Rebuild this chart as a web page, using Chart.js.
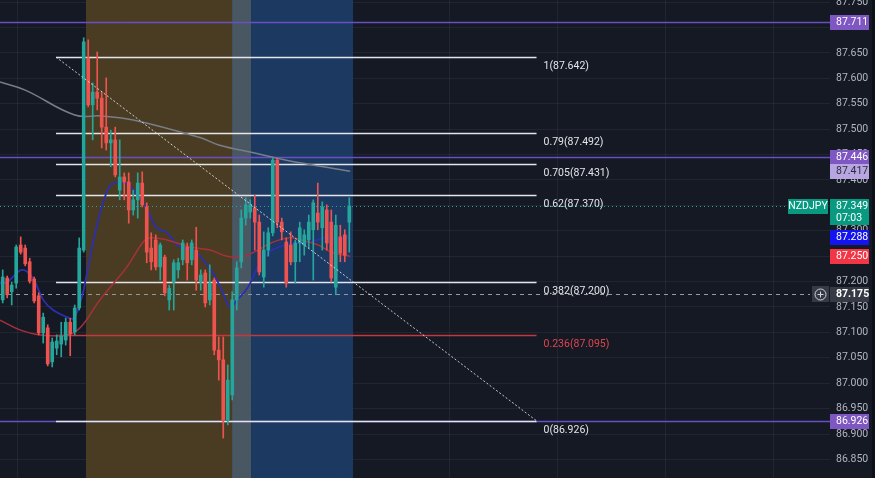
<!DOCTYPE html>
<html>
<head>
<meta charset="utf-8">
<script src="https://cdn.jsdelivr.net/npm/chart.js@4.4.0/dist/chart.umd.min.js"></script>
<style>
  html, body { margin: 0; padding: 0; background: #151924; }
  #wrap { width: 875px; height: 478px; position: relative; }
</style>
</head>
<body>
<div id="wrap"><canvas id="chart"></canvas></div>
<script>
/* ---------- data (NZDJPY candles, index = bar number) ---------- */
const opens = [87.164, 87.207, 87.180, 87.197, 87.272, 87.266, 87.239, 87.205, 87.172, 87.099,
  87.109, 87.042, 87.069, 87.077, 87.085, 87.120, 87.101, 87.148, 87.262, 87.640,
  87.548, 87.573, 87.561, 87.504, 87.473, 87.479, 87.380, 87.406, 87.396, 87.341,
  87.361, 87.394, 87.347, 87.266, 87.282, 87.229, 87.248, 87.164, 87.199, 87.223,
  87.243, 87.268, 87.243, 87.262, 87.199, 87.217, 87.164, 87.203, 87.065, 87.046,
  86.928, 86.977, 87.164, 87.239, 87.325, 87.337, 87.345, 87.317, 87.209, 87.262,
  87.296, 87.439, 87.317, 87.278, 87.272, 87.239, 87.276, 87.272, 87.282, 87.302,
  87.335, 87.306, 87.341, 87.317, 87.189, 87.288, 87.292, 87.317];
const highs = [87.223, 87.211, 87.199, 87.272, 87.288, 87.272, 87.246, 87.209, 87.178, 87.138,
  87.115, 87.089, 87.095, 87.120, 87.128, 87.128, 87.154, 87.286, 87.680, 87.676,
  87.591, 87.652, 87.573, 87.601, 87.498, 87.504, 87.479, 87.414, 87.414, 87.380,
  87.414, 87.416, 87.355, 87.296, 87.292, 87.276, 87.252, 87.193, 87.243, 87.246,
  87.282, 87.276, 87.282, 87.307, 87.223, 87.223, 87.233, 87.207, 87.091, 87.091,
  87.036, 87.180, 87.239, 87.341, 87.365, 87.361, 87.370, 87.331, 87.298, 87.306,
  87.443, 87.443, 87.325, 87.286, 87.298, 87.282, 87.317, 87.302, 87.331, 87.361,
  87.394, 87.357, 87.351, 87.341, 87.331, 87.311, 87.302, 87.365];
const lows = [87.158, 87.168, 87.154, 87.187, 87.254, 87.231, 87.197, 87.158, 87.095, 87.079,
  87.034, 87.032, 87.056, 87.052, 87.075, 87.054, 87.095, 87.144, 87.258, 87.544,
  87.479, 87.538, 87.463, 87.459, 87.426, 87.406, 87.361, 87.361, 87.315, 87.331,
  87.325, 87.347, 87.237, 87.223, 87.223, 87.203, 87.172, 87.144, 87.144, 87.207,
  87.233, 87.203, 87.233, 87.183, 87.183, 87.150, 87.154, 87.056, 87.006, 86.892,
  86.918, 86.967, 87.144, 87.227, 87.311, 87.325, 87.262, 87.213, 87.189, 87.250,
  87.290, 87.306, 87.282, 87.189, 87.233, 87.197, 87.239, 87.252, 87.266, 87.203,
  87.302, 87.262, 87.262, 87.199, 87.174, 87.239, 87.239, 87.258];
const closes = [87.209, 87.174, 87.193, 87.268, 87.258, 87.235, 87.201, 87.162, 87.099, 87.130,
  87.038, 87.081, 87.083, 87.093, 87.120, 87.097, 87.148, 87.266, 87.672, 87.548,
  87.573, 87.561, 87.504, 87.473, 87.479, 87.410, 87.406, 87.396, 87.341, 87.361,
  87.394, 87.351, 87.258, 87.239, 87.229, 87.272, 87.178, 87.187, 87.237, 87.237,
  87.276, 87.237, 87.276, 87.203, 87.213, 87.158, 87.197, 87.065, 87.046, 86.928,
  87.006, 87.164, 87.227, 87.325, 87.351, 87.351, 87.317, 87.219, 87.262, 87.296,
  87.439, 87.317, 87.298, 87.197, 87.239, 87.276, 87.306, 87.292, 87.317, 87.355,
  87.317, 87.347, 87.276, 87.207, 87.311, 87.256, 87.252, 87.349];

// moving averages: [bar, price]
const maSlow = [[-0.6, 87.593], [5, 87.577], [16, 87.528], [22, 87.526], [29, 87.518],
  [44, 87.483], [48, 87.469], [56, 87.453], [63, 87.439], [77.2, 87.417]];
const maMid = [[-0.6, 87.124], [3.8, 87.105], [8.3, 87.095], [14.3, 87.095], [17.2, 87.109],
  [21.6, 87.164], [27.6, 87.229], [31.2, 87.278], [32.7, 87.286], [36.5, 87.282],
  [41.6, 87.268], [46.1, 87.262], [49.8, 87.250], [53, 87.248], [56.7, 87.262],
  [59.6, 87.276], [63.4, 87.286], [66.3, 87.282], [70.1, 87.272], [73, 87.258], [77.2, 87.250]];
const maFast = [[-0.6, 87.197], [1, 87.199], [4.3, 87.223], [6.7, 87.207], [9, 87.164],
  [11.2, 87.144], [14.3, 87.130], [15.8, 87.128], [17.6, 87.170], [18.5, 87.207],
  [20.7, 87.302], [23.6, 87.386], [25.8, 87.396], [27.4, 87.394], [29.6, 87.374],
  [31.8, 87.347], [34.1, 87.307], [36.5, 87.296], [39.4, 87.268], [42.3, 87.262],
  [44.5, 87.243], [46.7, 87.217], [48.7, 87.183], [50.5, 87.150], [52.1, 87.164],
  [54.5, 87.189], [56.7, 87.229], [59, 87.256], [61.2, 87.268], [65, 87.276],
  [68.5, 87.278], [71.6, 87.286], [74.5, 87.282], [77.2, 87.288]];

// fibonacci retracement
const fibRatios = ["1", "0.79", "0.705", "0.62", "0.382", "0.236", "0"];
const fibPrices = [87.642, 87.492, 87.431, 87.370, 87.200, 87.095, 86.926];
const fibFrom = 11.84, fibTo = 118.6;

// horizontal rays and session boxes
const hLines = [87.711, 87.446, 86.926];
const bandFrom = [18.5, 50.96, 55.18];
const bandTo = [50.96, 55.18, 77.84];

// price scale
const priceTicks = [86.85, 86.9, 86.95, 87.0, 87.05, 87.1, 87.15, 87.2, 87.25, 87.3,
  87.35, 87.4, 87.45, 87.5, 87.55, 87.6, 87.65, 87.7, 87.75];
const timeGrid = [15.2, 39.2, 63.2, 87.2, 111.2, 135.2, 159.2, 183.2];
const symbol = "NZDJPY";
const lastPrice = 87.349;
const countdown = "07:03";
const crossPrice = 87.175;

/* ---------- styles ---------- */
const UP = "#26a69a", DOWN = "#ef5350";
const GRID = "rgba(255,255,255,0.055)";
const BAND_COLORS = ["rgba(78,64,34,0.93)", "rgba(78,92,104,0.93)", "rgba(28,60,102,0.93)"];
const FONT = "Roboto";

const bars = opens.map((_, i) => i);
const bodyColor = c => closes[c.dataIndex] >= opens[c.dataIndex] ? UP : DOWN;

/* ---------- drawings under candles ---------- */
const drawings = {
  id: "drawings",
  beforeDatasetsDraw(chart) {
    const { ctx, chartArea: a, scales: { x, y } } = chart;
    ctx.save();
    // session boxes
    bandFrom.forEach((f, i) => {
      const x0 = x.getPixelForValue(f), x1 = x.getPixelForValue(bandTo[i]);
      ctx.fillStyle = BAND_COLORS[i];
      ctx.fillRect(x0, a.top, x1 - x0, a.bottom - a.top);
    });
    // purple horizontal rays
    ctx.strokeStyle = "#6a4fc4";
    ctx.lineWidth = 1.5;
    hLines.forEach(p => {
      const py = Math.round(y.getPixelForValue(p)) + 0.5;
      ctx.beginPath(); ctx.moveTo(a.left, py); ctx.lineTo(a.right, py); ctx.stroke();
    });
    // fib levels
    const fx0 = x.getPixelForValue(fibFrom), fx1 = x.getPixelForValue(fibTo);
    ctx.font = "10.5px " + FONT;
    ctx.textBaseline = "middle";
    ctx.textAlign = "left";
    fibPrices.forEach((p, i) => {
      const col = fibRatios[i] === "0.236" ? "#c2383f" : "#e3e5ea";
      const py = Math.round(y.getPixelForValue(p)) + 0.5;
      ctx.strokeStyle = col;
      ctx.lineWidth = 1.5;
      ctx.beginPath(); ctx.moveTo(fx0, py); ctx.lineTo(fx1, py); ctx.stroke();
      ctx.fillStyle = fibRatios[i] === "0.236" ? "#e0454d" : "#e3e5ea";
      ctx.fillText(fibRatios[i] + "(" + p.toFixed(3) + ")", fx1 + 7, py + 8.5);
    });
    // last price dotted line
    let py = Math.round(y.getPixelForValue(lastPrice)) + 0.5;
    ctx.strokeStyle = UP; ctx.lineWidth = 1; ctx.setLineDash([1, 3]);
    ctx.beginPath(); ctx.moveTo(a.left, py); ctx.lineTo(788, py); ctx.stroke();
    // crosshair
    py = Math.round(y.getPixelForValue(crossPrice)) + 0.5;
    ctx.strokeStyle = "#9598a1"; ctx.setLineDash([4, 4]);
    ctx.beginPath(); ctx.moveTo(a.left, py); ctx.lineTo(810, py); ctx.stroke();
    ctx.restore();
  }
};

/* ---------- price scale tags ---------- */
function tag(ctx, py, text, bg, fg, bold) {
  ctx.fillStyle = bg;
  ctx.fillRect(830, Math.round(py) - 7, 39, 15);
  ctx.fillStyle = fg;
  ctx.font = (bold ? "bold " : "") + "10.5px " + FONT;
  ctx.textAlign = "left";
  ctx.textBaseline = "middle";
  ctx.fillText(text, 836, Math.round(py) + 0.5);
}

const priceTags = {
  id: "priceTags",
  afterDraw(chart) {
    const { ctx, scales: { y } } = chart;
    ctx.save();
    hLines.forEach(p => tag(ctx, y.getPixelForValue(p), p.toFixed(3), "#7e57c2", "#ffffff"));
    const slowLast = maSlow[maSlow.length - 1][1];
    tag(ctx, y.getPixelForValue(slowLast), slowLast.toFixed(3), "#b8a6e2", "#2a2e39");
    tag(ctx, y.getPixelForValue(maFast[maFast.length - 1][1]), maFast[maFast.length - 1][1].toFixed(3), "#1414f0", "#ffffff");
    tag(ctx, y.getPixelForValue(maMid[maMid.length - 1][1]), maMid[maMid.length - 1][1].toFixed(3), "#f23645", "#ffffff");

    // last price + countdown
    const ly = Math.round(y.getPixelForValue(lastPrice));
    ctx.fillStyle = "#089981";
    ctx.fillRect(830, ly - 7, 39, 26);
    ctx.fillRect(788, ly - 7, 40, 15);
    ctx.fillStyle = "#ffffff";
    ctx.font = "10.5px " + FONT;
    ctx.textBaseline = "middle";
    ctx.fillText(lastPrice.toFixed(3), 836, ly + 0.5);
    ctx.fillText(countdown, 836, ly + 12.5);
    ctx.textAlign = "center";
    ctx.fillText(symbol, 808, ly + 0.5);

    // crosshair label + add button
    const cy = Math.round(y.getPixelForValue(crossPrice));
    ctx.fillStyle = "#363a45";
    ctx.fillRect(812, cy - 8, 17, 16);
    tag(ctx, cy, crossPrice.toFixed(3), "#363a45", "#ffffff", true);
    ctx.strokeStyle = "#d1d4dc"; ctx.lineWidth = 1;
    ctx.beginPath(); ctx.arc(820.5, cy + 0.5, 5.5, 0, Math.PI * 2); ctx.stroke();
    ctx.beginPath();
    ctx.moveTo(817.5, cy + 0.5); ctx.lineTo(823.5, cy + 0.5);
    ctx.moveTo(820.5, cy - 2.5); ctx.lineTo(820.5, cy + 3.5);
    ctx.stroke();

    // right edge strip
    ctx.fillStyle = "#0e1017";
    ctx.fillRect(872, 0, 3, 478);
    ctx.restore();
  }
};

/* ---------- chart ---------- */
const lineDs = (pts, color, width) => ({
  type: "line",
  data: pts.map(p => ({ x: p[0], y: p[1] })),
  borderColor: color,
  borderWidth: width,
  pointRadius: 0,
  tension: 0.4,
  order: 2
});

new Chart(document.getElementById("chart"), {
  type: "bar",
  data: {
    datasets: [
      {
        data: bars.map(i => ({ x: i, y: [lows[i], highs[i]] })),
        backgroundColor: bodyColor,
        barThickness: 1,
        grouped: false,
        order: 1
      },
      {
        data: bars.map(i => ({ x: i, y: [opens[i], closes[i]] })),
        backgroundColor: bodyColor,
        barThickness: 3,
        minBarLength: 1,
        grouped: false,
        order: 0
      },
      lineDs(maSlow, "#7a7d88", 1.5),
      lineDs(maMid, "#a8303a", 1.5),
      lineDs(maFast, "#2b2fb0", 1.8),
      {
        type: "line",
        data: [{ x: fibFrom, y: fibPrices[0] }, { x: fibTo, y: fibPrices[fibPrices.length - 1] }],
        borderColor: "rgba(230,232,238,0.85)",
        borderWidth: 1,
        borderDash: [2, 2],
        pointRadius: 0,
        order: -1
      }
    ]
  },
  options: {
    responsive: true,
    maintainAspectRatio: false,
    animation: false,
    layout: { padding: 0 },
    plugins: { legend: { display: false }, tooltip: { enabled: false } },
    scales: {
      x: {
        type: "linear",
        min: -0.6,
        max: 183.8,
        offset: false,
        grid: { color: GRID, drawTicks: false },
        border: { display: false },
        ticks: { display: false },
        afterBuildTicks: s => { s.ticks = timeGrid.map(v => ({ value: v })); },
        afterFit: s => { s.height = 0; s.paddingLeft = 0; s.paddingRight = 0; }
      },
      y: {
        position: "right",
        min: 86.8134,
        max: 87.7543,
        grid: { color: GRID, drawTicks: false },
        border: { display: false },
        ticks: {
          color: "#b2b5be",
          font: { family: FONT, size: 10.5 },
          padding: 6,
          callback: v => v.toFixed(3)
        },
        afterBuildTicks: s => { s.ticks = priceTicks.map(v => ({ value: v })); },
        afterFit: s => { s.width = 45; s.paddingTop = 0; s.paddingBottom = 0; }
      }
    }
  },
  plugins: [drawings, priceTags]
});
</script>
</body>
</html>
